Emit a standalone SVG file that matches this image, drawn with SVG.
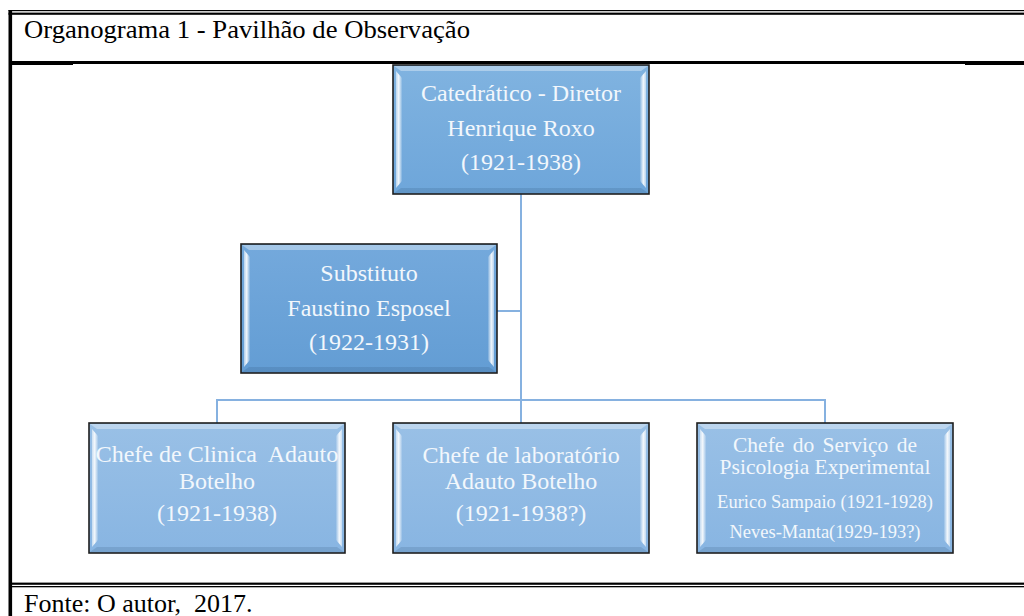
<svg xmlns="http://www.w3.org/2000/svg" width="1024" height="616" viewBox="0 0 1024 616">
  <style>
    .frame { stroke: #1e1e1e; stroke-width: 1.6; }
    .lbl { font-family: "Liberation Serif", "Times New Roman", serif; fill: #f2f7fc; text-anchor: middle; }
    .big { font-size: 24px; }
    .mid { font-size: 21.5px; }
    .sm { font-size: 18.5px; }
    .cap { font-family: "Liberation Serif", "Times New Roman", serif; font-size: 26px; fill: #000; }
    .conn { fill: none; stroke: #86b1e0; stroke-width: 2; }
    .tb { fill: #ffffff; fill-opacity: 0.35; }
    .bb { fill: #1e3c60; fill-opacity: 0.15; }
    .lb { fill: url(#bevL); }
    .rb { fill: url(#bevR); }
  </style>
  <defs>
    <linearGradient id="gTop" x1="0" y1="0" x2="0" y2="1">
      <stop offset="0" stop-color="#80b3e0"/>
      <stop offset="1" stop-color="#6ea6da"/>
    </linearGradient>
    <linearGradient id="gSub" x1="0" y1="0" x2="0" y2="1">
      <stop offset="0" stop-color="#74a9dc"/>
      <stop offset="1" stop-color="#639dd4"/>
    </linearGradient>
    <linearGradient id="gBot" x1="0" y1="0" x2="0" y2="1">
      <stop offset="0" stop-color="#99c0e6"/>
      <stop offset="1" stop-color="#88b5e2"/>
    </linearGradient>
    <linearGradient id="bevL" x1="0" y1="0" x2="1" y2="0">
      <stop offset="0" stop-color="#ffffff" stop-opacity="0.5"/>
      <stop offset="0.45" stop-color="#ffffff" stop-opacity="0.9"/>
      <stop offset="1" stop-color="#ffffff" stop-opacity="0.1"/>
    </linearGradient>
    <linearGradient id="bevR" x1="1" y1="0" x2="0" y2="0">
      <stop offset="0" stop-color="#ffffff" stop-opacity="0.5"/>
      <stop offset="0.45" stop-color="#ffffff" stop-opacity="0.9"/>
      <stop offset="1" stop-color="#ffffff" stop-opacity="0.1"/>
    </linearGradient>
  </defs>

  <!-- page frame -->
  <g id="frame" fill="#000">
    <rect x="8.5" y="10" width="1015.5" height="1.2"/>
    <rect x="8.5" y="12.6" width="1015.5" height="2.2"/>
    <rect x="8.5" y="10" width="3.6" height="606"/>
    <rect x="10" y="61" width="1014" height="3"/>
    <rect x="12" y="63.5" width="61" height="1.5"/>
    <rect x="965" y="63.5" width="59" height="1.5"/>
    <rect x="10" y="582.6" width="1014" height="2.2"/>
    <rect x="10" y="586" width="1014" height="1.3"/>
  </g>
  <text class="cap" x="24" y="37.5" textLength="446" lengthAdjust="spacingAndGlyphs">Organograma 1 - Pavilhão de Observação</text>
  <text class="cap" x="24" y="611.5">Fonte: O autor,&#160; 2017.</text>

  <!-- connectors -->
  <g id="connectors">
    <path class="conn" d="M521 194 V423"/>
    <path class="conn" d="M497 311 H521"/>
    <path class="conn" d="M217 423 V400 H825 V423"/>
  </g>

  <!-- top node -->
  <g id="node-diretor">
    <rect class="frame" x="393" y="65" width="256" height="129" fill="url(#gTop)"/>
    <polygon class="tb" points="394,66 648,66 641,71 401,71"/>
    <polygon class="bb" points="394,193 648,193 641,188 401,188"/>
    <text class="lbl big" x="521" y="101">Catedrático - Diretor</text>
    <text class="lbl big" x="521" y="136">Henrique Roxo</text>
    <text class="lbl big" x="521" y="170">(1921-1938)</text>
    <polygon class="lb" points="396,71 402,78 402,181 396,188"/>
    <polygon class="rb" points="646,71 640,78 640,181 646,188"/>
  </g>

  <!-- substitute node -->
  <g id="node-substituto">
    <rect class="frame" x="241" y="244" width="256" height="129" fill="url(#gSub)"/>
    <polygon class="tb" points="242,245 496,245 489,250 249,250"/>
    <polygon class="bb" points="242,372 496,372 489,367 249,367"/>
    <text class="lbl big" x="369" y="281">Substituto</text>
    <text class="lbl big" x="369" y="316">Faustino Esposel</text>
    <text class="lbl big" x="369" y="350">(1922-1931)</text>
    <polygon class="lb" points="244,250 250,257 250,360 244,367"/>
    <polygon class="rb" points="494,250 488,257 488,360 494,367"/>
  </g>

  <!-- bottom node 1 -->
  <g id="node-clinica">
    <rect class="frame" x="89" y="423" width="256" height="130" fill="url(#gBot)"/>
    <polygon class="tb" points="90,424 344,424 337,429 97,429"/>
    <polygon class="bb" points="90,552 344,552 337,547 97,547"/>
    <text class="lbl big" x="217" y="461.5">Chefe de Clinica&#160; Adauto</text>
    <text class="lbl big" x="217" y="489">Botelho</text>
    <text class="lbl big" x="217" y="521">(1921-1938)</text>
    <polygon class="lb" points="92,429 98,436 98,540 92,547"/>
    <polygon class="rb" points="342,429 336,436 336,540 342,547"/>
  </g>

  <!-- bottom node 2 -->
  <g id="node-laboratorio">
    <rect class="frame" x="393" y="423" width="256" height="130" fill="url(#gBot)"/>
    <polygon class="tb" points="394,424 648,424 641,429 401,429"/>
    <polygon class="bb" points="394,552 648,552 641,547 401,547"/>
    <text class="lbl big" x="521" y="462.5">Chefe de laboratório</text>
    <text class="lbl big" x="521" y="489">Adauto Botelho</text>
    <text class="lbl big" x="521" y="521">(1921-1938?)</text>
    <polygon class="lb" points="396,429 402,436 402,540 396,547"/>
    <polygon class="rb" points="646,429 640,436 640,540 646,547"/>
  </g>

  <!-- bottom node 3 -->
  <g id="node-psicologia">
    <rect class="frame" x="697" y="423" width="256" height="130" fill="url(#gBot)"/>
    <polygon class="tb" points="698,424 952,424 945,429 705,429"/>
    <polygon class="bb" points="698,552 952,552 945,547 705,547"/>
    <text class="lbl mid" x="825" y="451.5" word-spacing="3">Chefe do Serviço de</text>
    <text class="lbl mid" x="825" y="473.5">Psicologia Experimental</text>
    <text class="lbl sm" x="825" y="508">Eurico Sampaio (1921-1928)</text>
    <text class="lbl sm" x="825" y="538">Neves-Manta(1929-193?)</text>
    <polygon class="lb" points="700,429 706,436 706,540 700,547"/>
    <polygon class="rb" points="950,429 944,436 944,540 950,547"/>
  </g>
</svg>
